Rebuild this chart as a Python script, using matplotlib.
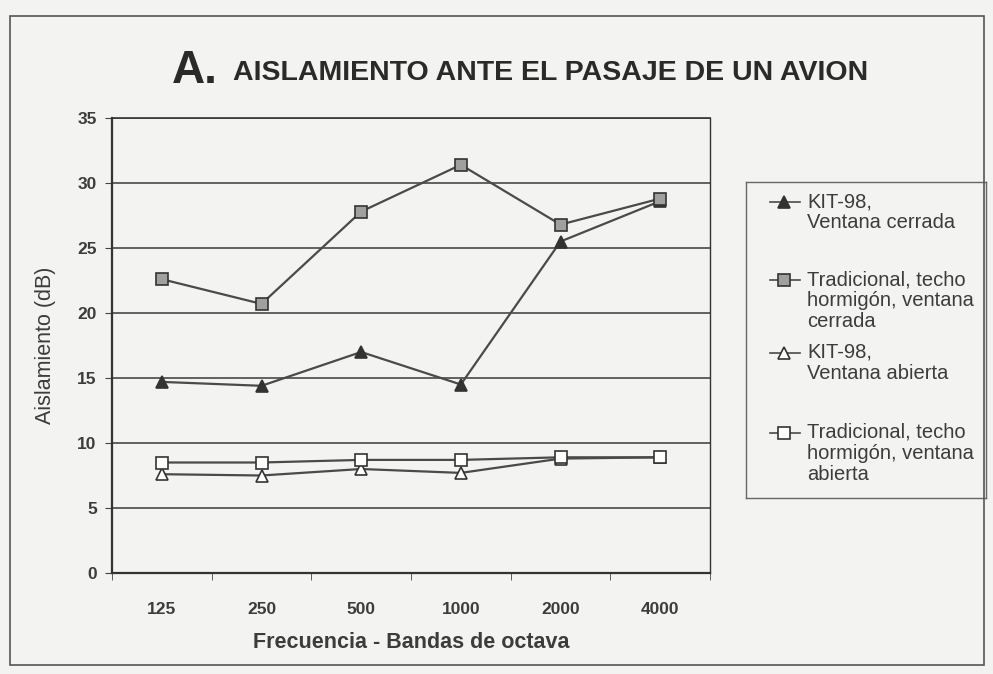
import matplotlib
matplotlib.use("Agg")
import matplotlib.pyplot as plt
from matplotlib.lines import Line2D
from matplotlib.patches import Rectangle

plt.rcParams['font.family'] = ['Liberation Sans', 'DejaVu Sans']

frequencies = ["125", "250", "500", "1000", "2000", "4000"]
kit_cerrada = [14.7, 14.4, 17.0, 14.5, 25.5, 28.6]
trad_cerrada = [22.6, 20.7, 27.8, 31.4, 26.8, 28.8]
kit_abierta = [7.6, 7.5, 8.0, 7.7, 8.8, 8.9]
trad_abierta = [8.5, 8.5, 8.7, 8.7, 8.9, 8.9]

labels = ["KIT-98,\nVentana cerrada",
          "Tradicional, techo\nhormigón, ventana\ncerrada",
          "KIT-98,\nVentana abierta",
          "Tradicional, techo\nhormigón, ventana\nabierta"]

W, H = 993, 674
bg = '#f3f3f1'
ink = '#3c3c3c'
fig = plt.figure(figsize=(W / 100, H / 100), dpi=100, facecolor=bg)

def fx(px):
    return px / W

def fy(py):
    return 1 - py / H

# document frame
fig.patches.append(Rectangle((fx(10), fy(665)), fx(984) - fx(10), fy(16) - fy(665),
                             transform=fig.transFigure, fill=False,
                             edgecolor='#555555', lw=1.2))

ax = fig.add_axes([fx(112), fy(573), fx(710) - fx(112), fy(118) - fy(573)])
ax.set_facecolor(bg)

x = list(range(len(frequencies)))
styles = [
    (kit_cerrada, dict(marker='^', markerfacecolor='#333333', markeredgecolor='#333333')),
    (trad_cerrada, dict(marker='s', markerfacecolor='#a0a0a0', markeredgecolor='#333333')),
    (kit_abierta, dict(marker='^', markerfacecolor='white', markeredgecolor='#333333')),
    (trad_abierta, dict(marker='s', markerfacecolor='white', markeredgecolor='#333333')),
]
for vals, st in styles:
    ax.plot(x, vals, color='#4a4a4a', lw=1.6, markersize=9, markeredgewidth=1.2,
            zorder=3, **st)

ax.set_xlim(-0.5, len(frequencies) - 0.5)
ax.set_ylim(0, 35)
ax.set_yticks(range(0, 36, 5))
ax.yaxis.grid(True, color='#555555', lw=1.3)
ax.set_axisbelow(True)

ax.set_xticks(x)
ax.set_xticklabels(frequencies, fontsize=12.5, fontweight='bold', color=ink)
ax.set_xticks([i - 0.5 for i in range(len(frequencies) + 1)], minor=True)
ax.tick_params(axis='x', which='major', length=0, pad=21)
ax.tick_params(axis='x', which='minor', length=5, color='#444444', direction='out')
ax.tick_params(axis='y', length=5, color='#444444', labelsize=12.5, labelcolor=ink, pad=6)
for lbl in ax.get_yticklabels():
    lbl.set_fontweight('bold')

for side in ['left', 'bottom', 'top', 'right']:
    ax.spines[side].set_color('#333333')
    ax.spines[side].set_linewidth(1.6)
ax.spines['top'].set_linewidth(1.2)
ax.spines['right'].set_linewidth(1.0)

ax.set_ylabel("Aislamiento (dB)", fontsize=15.5, color=ink, labelpad=15)
ax.set_xlabel("Frecuencia - Bandas de octava", fontsize=15.5, fontweight='bold',
              color=ink, labelpad=11)

# title
fig.text(fx(172), fy(83), "A.", fontsize=33, fontweight='bold', color='#2a2a2a',
         ha='left', va='baseline')
fig.text(fx(233), fy(80), "AISLAMIENTO ANTE EL PASAJE DE UN AVION", fontsize=20.5,
         fontweight='bold', color='#2a2a2a', ha='left', va='baseline')

# legend box
lx0, lx1, ly0, ly1 = 746, 986, 182, 498
lax = fig.add_axes([fx(lx0), fy(ly1), fx(lx1) - fx(lx0), fy(ly0) - fy(ly1)])
lax.set_xlim(lx0, lx1)
lax.set_ylim(ly1, ly0)
lax.set_facecolor(bg)
lax.set_xticks([])
lax.set_yticks([])
for s in lax.spines.values():
    s.set_color('#666666')
    s.set_linewidth(1.0)

entry_y = [202, 280, 353, 433]
for (vals, st), lab, ey in zip(styles, labels, entry_y):
    lax.add_line(Line2D([770, 800], [ey, ey], color='#4a4a4a', lw=1.2))
    lax.add_line(Line2D([784], [ey], markersize=9, markeredgewidth=1.2, lw=0, **st))
    lax.text(807, ey - 10, lab, fontsize=14.5, color=ink, ha='left', va='top',
             linespacing=1.12)

fig.savefig("out.png", dpi=100, facecolor=bg)
